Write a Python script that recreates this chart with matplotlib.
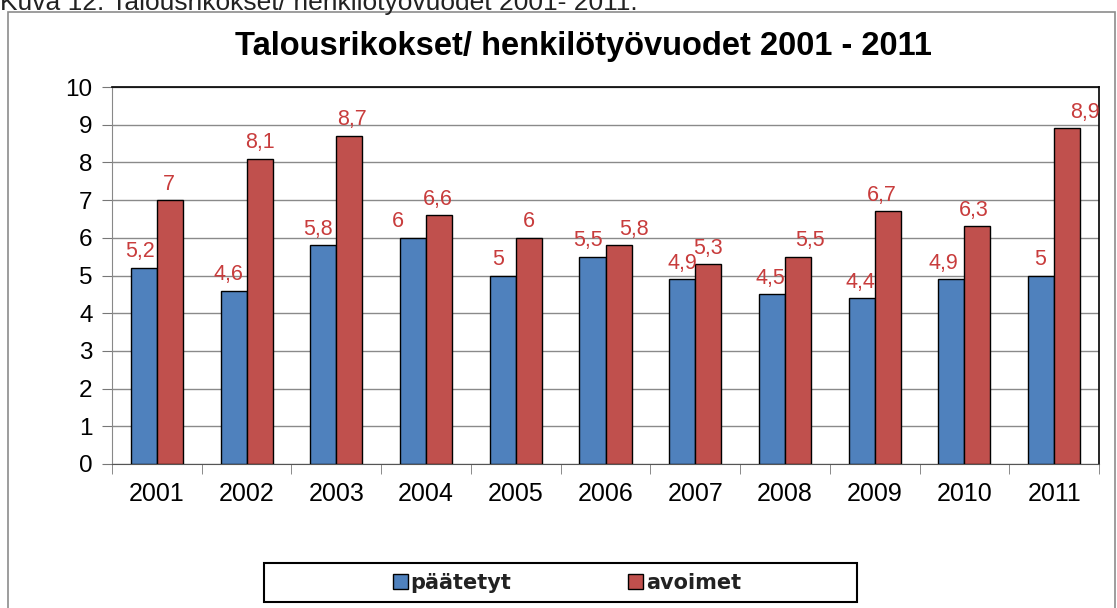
import numpy as np
import matplotlib.pyplot as plt
from matplotlib.patches import Rectangle
from matplotlib.ticker import FixedLocator

# data
years = ['2001', '2002', '2003', '2004', '2005', '2006', '2007', '2008', '2009', '2010', '2011']
paatetyt = [5.2, 4.6, 5.8, 6.0, 5.0, 5.5, 4.9, 4.5, 4.4, 4.9, 5.0]
avoimet = [7.0, 8.1, 8.7, 6.6, 6.0, 5.8, 5.3, 5.5, 6.7, 6.3, 8.9]

# small sideways nudges of the value labels (points), as in the original
dx_blue = [-3, -4, -4, -11, -3, -3, 0, -1, -1, -6, -1]
dx_red = [-1, 0, 2, -1, 0, 11, 0, 9, -4, -3, 13]

blue = '#4f81bd'
red = '#c0504d'
lab_col = '#c83c3c'

plt.rcParams['font.family'] = ['Liberation Sans', 'DejaVu Sans']

fig = plt.figure(figsize=(11.17, 6.08), dpi=100)
W, H = 1117, 608

# caption above the chart (cut off at the top edge, as in the source)
fig.text(0.0, 1 - 10 / H, 'Kuva 12. Talousrikokset/ henkilötyövuodet 2001- 2011.',
         fontsize=19, va='baseline', ha='left', color='#222222')

# outer chart frame
fig.patches.append(Rectangle((8 / W, -0.1), (1115 - 8) / W, 1.1 - 12 / H,
                             transform=fig.transFigure, fill=False,
                             edgecolor='#8c8c8c', lw=1.2))

ax = fig.add_axes([112 / W, 1 - 464 / H, (1099 - 112) / W, (464 - 87) / H])

x = np.arange(len(years))
bw = 0.29
b1 = ax.bar(x - bw / 2, paatetyt, bw, color=blue, edgecolor='black', lw=1, label='päätetyt', zorder=3)
b2 = ax.bar(x + bw / 2, avoimet, bw, color=red, edgecolor='black', lw=1, label='avoimet', zorder=3)

for i in range(len(years)):
    ax.annotate(f'{paatetyt[i]:g}'.replace('.', ','), (x[i] - bw / 2, paatetyt[i]),
                xytext=(dx_blue[i], 4), textcoords='offset points', ha='center', va='bottom',
                fontsize=15.5, color=lab_col)
    ax.annotate(f'{avoimet[i]:g}'.replace('.', ','), (x[i] + bw / 2, avoimet[i]),
                xytext=(dx_red[i], 4), textcoords='offset points', ha='center', va='bottom',
                fontsize=15.5, color=lab_col)

ax.set_xlim(-0.5, len(years) - 0.5)
ax.set_ylim(0, 10)
ax.set_yticks(range(0, 11))
ax.set_xticks(x)
ax.set_xticklabels(years)
ax.xaxis.set_minor_locator(FixedLocator(np.arange(-0.5, len(years), 1.0)))
ax.tick_params(axis='x', which='major', length=0, labelsize=18, pad=13)
ax.tick_params(axis='x', which='minor', length=7, color='#777777', direction='out')
ax.tick_params(axis='y', length=7, color='#777777', labelsize=17.5, pad=7)

ax.grid(axis='y', color='#8a8a8a', lw=1, zorder=0)
ax.set_axisbelow(True)
for s in ['top', 'right']:
    ax.spines[s].set_color('black')
    ax.spines[s].set_linewidth(1.2)
ax.spines['left'].set_color('#888888')
ax.spines['bottom'].set_color('#555555')

fig.text(583 / W, 1 - 47 / H, 'Talousrikokset/ henkilötyövuodet 2001 - 2011',
         fontsize=23.5, fontweight='bold', ha='center', va='center')

# legend box
fig.patches.append(Rectangle((264 / W, 1 - 602 / H), (857 - 264) / W, (602 - 563) / H,
                             transform=fig.transFigure, fill=False, edgecolor='black', lw=1.5))
leg = fig.legend(handles=[b1, b2], loc='center', bbox_to_anchor=(567 / W, 1 - 583 / H),
                 ncol=2, frameon=False, columnspacing=5.6, handlelength=0.7, handleheight=0.7,
                 handletextpad=0.15, prop={'family': 'DejaVu Sans', 'size': 15, 'weight': 'bold'})
for t in leg.get_texts():
    t.set_color('#222222')

fig.savefig('out.png', dpi=100)
